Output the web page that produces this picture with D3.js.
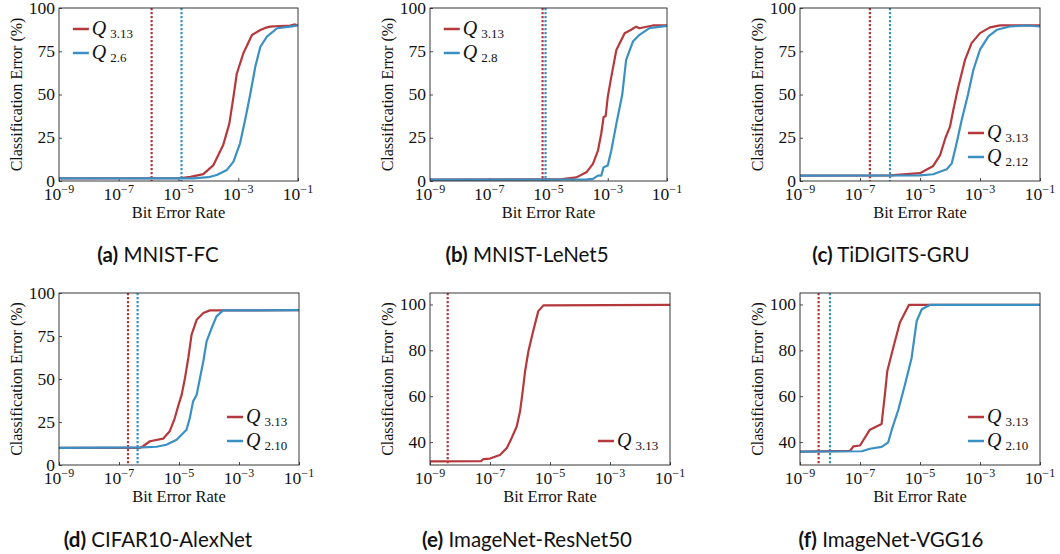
<!DOCTYPE html>
<html>
<head>
<meta charset="utf-8">
<script src="https://cdn.jsdelivr.net/npm/d3@7"></script>
<style>
  body { margin: 0; background: #fff; }
  svg { display: block; }
  .tick-label, .axis-title, .legend-text { font-family: 'Liberation Serif', 'Times New Roman', serif; fill: #111; }
  .caption { font-family: Lato, 'Open Sans', sans-serif; font-size: 20.5px; fill: #111; }
</style>
</head>
<body>
<svg id="chart" width="1060" height="554"></svg>
<script>
// ---- data (x values are log10 of the bit error rate, y values are % error) ----
const xTickExps = [-9, -7, -5, -3, -1];
const yTicksCifar = [0, 25, 50, 75, 100];
const yTicksImageNet = [40, 60, 80, 100];

const captions = ['(a)', '(b)', '(c)', '(d)', '(e)', '(f)'];
const captionNames = ['MNIST-FC', 'MNIST-LeNet5', 'TiDIGITS-GRU', 'CIFAR10-AlexNet', 'ImageNet-ResNet50', 'ImageNet-VGG16'];

// (a) MNIST-FC
const fcRedExp = [-9, -5, -4.6, -4.17, -3.83, -3.5, -3.3, -3.16, -3.05, -2.83, -2.54, -2.26, -2.1, -1.93, -1.6, -1.26, -1.1, -1];
const fcRedErr = [1.5, 1.6, 2.4, 4, 9.2, 21, 33, 48.7, 62, 73.8, 84.4, 87.3, 88.5, 89.2, 89.6, 89.8, 90.5, 90];
const fcBlueExp = [-9, -4.5, -4.0, -3.72, -3.38, -3.16, -2.94, -2.77, -2.6, -2.43, -2.26, -2.04, -1.7, -1.26, -1];
const fcBlueErr = [1.5, 1.5, 2.2, 3.5, 6.4, 11.2, 21.8, 35.3, 50, 66, 77.6, 83.4, 88.3, 89.2, 90];
const fcVlines = [-5.9, -4.9];

// (b) MNIST-LeNet5
const lenetRedExp = [-9, -4.6, -4.06, -3.72, -3.5, -3.33, -3.22, -3.14, -3.07, -3.0, -2.88, -2.71, -2.43, -2.21, -2.04, -1.93, -1.48, -1];
const lenetRedErr = [0.8, 1.0, 2.1, 5, 9.9, 17.6, 27.3, 37, 37.5, 48.6, 60.2, 75.7, 85.4, 87.4, 89.2, 88.3, 89.9, 90];
const lenetBlueExp = [-9, -3.7, -3.5, -3.33, -3.22, -3.14, -3.0, -2.88, -2.71, -2.51, -2.38, -2.15, -1.93, -1.59, -1];
const lenetBlueErr = [0.8, 0.9, 1.2, 3.1, 3.1, 8, 9, 17.6, 33, 50, 70, 80.6, 84.5, 88.4, 89.7];
const lenetVlines = [-5.2, -5.1];

// (c) TiDIGITS-GRU
const gruRedExp = [-9, -6, -5.0, -4.56, -4.33, -4.15, -4.0, -3.89, -3.78, -3.72, -3.5, -3.28, -3.0, -2.67, -2.33, -1];
const gruRedErr = [3.1, 3.2, 4.5, 8.7, 15, 25, 31.4, 41, 50, 54.6, 70, 79.7, 85.5, 88.8, 90, 90];
const gruBlueExp = [-9, -5, -4.56, -4.11, -3.94, -3.78, -3.61, -3.4, -3.22, -3.0, -2.72, -2.44, -2.0, -1.44, -1];
const gruBlueErr = [3.1, 3.2, 3.9, 6.8, 10.2, 21.8, 35.3, 50, 64.3, 75.9, 83.6, 87.4, 89.3, 89.9, 89.3];
const gruVlines = [-6.67, -6.0];

// (d) CIFAR10-AlexNet
const alexRedExp = [-9, -6.3, -6.2, -5.97, -5.53, -5.31, -5.14, -5.03, -4.91, -4.8, -4.69, -4.58, -4.41, -4.19, -3.97, -1];
const alexRedErr = [10, 10, 10.9, 13.8, 15.3, 19.6, 27.3, 34.1, 40.9, 50.6, 62.2, 75.8, 84.5, 88.4, 89.9, 90];
const alexBlueExp = [-9, -6.2, -5.75, -5.42, -5.08, -4.75, -4.64, -4.53, -4.41, -4.3, -4.19, -4.08, -3.91, -3.75, -3.53, -1];
const alexBlueErr = [10, 10.2, 10.6, 11.8, 14.7, 20.5, 27.3, 37, 40.9, 50.6, 60.2, 71.9, 79.7, 86.4, 89.9, 90];
const alexVlines = [-6.7, -6.38];

// (e) ImageNet-ResNet50
const resRedExp = [-9, -7.3, -7.22, -7.0, -6.67, -6.44, -6.28, -6.11, -6.0, -5.91, -5.83, -5.72, -5.56, -5.39, -5.22, -1];
const resRedErr = [31.6, 31.7, 32.6, 32.8, 34.4, 37.4, 41.7, 46.8, 53.3, 62.1, 70.9, 79.6, 88.4, 97.1, 99.6, 99.8];
const resVlines = [-8.41];

// (f) ImageNet-VGG16
const vggRedExp = [-9, -7.33, -7.22, -7.0, -6.67, -6.28, -6.17, -6.09, -5.89, -5.67, -5.37, -1];
const vggRedErr = [35.8, 36.2, 38.1, 38.5, 45.4, 47.9, 60.8, 71, 81.2, 92.1, 99.8, 99.8];
const vggBlueExp = [-9, -6.94, -6.67, -6.28, -6.06, -5.94, -5.72, -5.5, -5.28, -5.11, -4.94, -4.67, -1];
const vggBlueErr = [35.8, 36.0, 37.1, 37.9, 39.9, 45.4, 54.2, 65.1, 76.7, 92.8, 97.9, 99.8, 99.8];
const vggVlines = [-8.38, -8.0];

const RED = '#b5393c';
const BLUE = '#3b90c3';

// layout of the six panels
const panels = [
    { x0: 59, x1: 298, y0: 8, y1: 181, yDomain: [0, 100], yTicks: yTicksCifar, legend: 'ul',
      series: [{ name: '3.13', exp: fcRedExp, err: fcRedErr, color: RED }, { name: '2.6', exp: fcBlueExp, err: fcBlueErr, color: BLUE }], vlines: fcVlines },
    { x0: 430, x1: 667, y0: 8, y1: 181, yDomain: [0, 100], yTicks: yTicksCifar, legend: 'ul',
      series: [{ name: '3.13', exp: lenetRedExp, err: lenetRedErr, color: RED }, { name: '2.8', exp: lenetBlueExp, err: lenetBlueErr, color: BLUE }], vlines: lenetVlines },
    { x0: 800, x1: 1040, y0: 8, y1: 181, yDomain: [0, 100], yTicks: yTicksCifar, legend: 'lr',
      series: [{ name: '3.13', exp: gruRedExp, err: gruRedErr, color: RED }, { name: '2.12', exp: gruBlueExp, err: gruBlueErr, color: BLUE }], vlines: gruVlines },
    { x0: 59, x1: 299, y0: 293, y1: 465, yDomain: [0, 100], yTicks: yTicksCifar, legend: 'lr',
      series: [{ name: '3.13', exp: alexRedExp, err: alexRedErr, color: RED }, { name: '2.10', exp: alexBlueExp, err: alexBlueErr, color: BLUE }], vlines: alexVlines },
    { x0: 430, x1: 670, y0: 293, y1: 465, yDomain: [30, 105], yTicks: yTicksImageNet, legend: 'lr',
      series: [{ name: '3.13', exp: resRedExp, err: resRedErr, color: RED }], vlines: resVlines },
    { x0: 800, x1: 1040, y0: 293, y1: 465, yDomain: [30, 105], yTicks: yTicksImageNet, legend: 'lr',
      series: [{ name: '3.13', exp: vggRedExp, err: vggRedErr, color: RED }, { name: '2.10', exp: vggBlueExp, err: vggBlueErr, color: BLUE }], vlines: vggVlines }
];

const svg = d3.select('#chart');

panels.forEach((p, idx) => {
    const w = p.x1 - p.x0;
    const h = p.y1 - p.y0;
    const x = d3.scaleLog().domain([1e-9, 1e-1]).range([0, w]);
    const y = d3.scaleLinear().domain(p.yDomain).range([h, 0]);

    const g = svg.append('g').attr('transform', `translate(${p.x0},${p.y0})`);

    g.append('defs').append('clipPath').attr('id', `clip${idx}`)
        .append('rect').attr('width', w).attr('height', h);

    // axes: inward ticks, labels drawn by hand for the superscripts
    const xAxis = g.append('g').attr('transform', `translate(0,${h})`)
        .call(d3.axisBottom(x).tickValues(xTickExps.map((e) => Math.pow(10, e))).tickSizeInner(-3).tickSizeOuter(0).tickFormat(''));
    const yAxis = g.append('g')
        .call(d3.axisLeft(y).tickValues(p.yTicks).tickSizeInner(-3).tickSizeOuter(0).tickFormat(''));
    [xAxis, yAxis].forEach((a) => {
        a.select('.domain').remove();
        a.selectAll('.tick line').attr('stroke', '#222').attr('stroke-width', 0.8);
    });

    xTickExps.forEach((e) => {
        const t = g.append('text').attr('class', 'tick-label')
            .attr('x', x(Math.pow(10, e)))
            .attr('y', h + 19)
            .attr('text-anchor', 'middle')
            .style('font-size', '17.5px');
        t.append('tspan').text('10');
        t.append('tspan').attr('dy', -7).style('font-size', '12px').text('\u2212' + Math.abs(e));
    });

    p.yTicks.forEach((v) => {
        g.append('text').attr('class', 'tick-label')
            .attr('x', -4)
            .attr('y', y(v) + 5.5)
            .attr('text-anchor', 'end')
            .style('font-size', '17.5px')
            .text(v);
    });

    g.append('text').attr('class', 'axis-title')
        .attr('x', w / 2).attr('y', h + 37)
        .attr('text-anchor', 'middle')
        .style('font-size', '16.5px')
        .text('Bit Error Rate');

    g.append('text').attr('class', 'axis-title')
        .attr('transform', `translate(-37,${h / 2}) rotate(-90)`)
        .attr('text-anchor', 'middle')
        .style('font-size', '16px')
        .text('Classification Error (%)');

    // threshold markers
    const pg = g.append('g').attr('clip-path', `url(#clip${idx})`);
    p.vlines.forEach((e, i) => {
        pg.append('line')
            .attr('x1', x(Math.pow(10, e))).attr('x2', x(Math.pow(10, e)))
            .attr('y1', 0).attr('y2', h)
            .attr('stroke', p.series[i].color)
            .attr('stroke-width', 2.2)
            .attr('stroke-dasharray', '2.2,1.8');
    });

    const line = d3.line().x((d) => x(Math.pow(10, d[0]))).y((d) => y(d[1]));
    p.series.forEach((s) => {
        pg.append('path')
            .datum(s.exp.map((e, i) => [e, s.err[i]]))
            .attr('d', line)
            .attr('fill', 'none')
            .attr('stroke', s.color)
            .attr('stroke-width', 2.2)
            .attr('stroke-linejoin', 'round');
    });

    // frame
    g.append('rect').attr('width', w).attr('height', h)
        .attr('fill', 'none').attr('stroke', '#222').attr('stroke-width', 0.9);

    // legend
    const lx = p.legend === 'ul' ? w * 0.058 : w * 0.70;
    p.series.forEach((s, i) => {
        let ly;
        if (p.legend === 'ul') {
            ly = 21 + i * 24;
        } else {
            ly = h - 24 * (p.series.length - i);
        }
        const le = g.append('g').attr('transform', `translate(${lx},${ly})`);
        le.append('line').attr('x1', 0).attr('x2', 16).attr('y1', 0).attr('y2', 0)
            .attr('stroke', s.color).attr('stroke-width', 2.5);
        const t = le.append('text').attr('class', 'legend-text').attr('x', 19).attr('y', 6);
        t.append('tspan').style('font-style', 'italic').style('font-size', '20px').text('Q');
        t.append('tspan').attr('dx', 4).attr('dy', 3).style('font-size', '13px').text(s.name);
    });

    // caption
    const cap = svg.append('text').attr('class', 'caption')
        .attr('x', idx % 3 === 0 ? 158 : idx % 3 === 1 ? 527 : 891)
        .attr('y', idx < 3 ? 262 : 547)
        .attr('text-anchor', 'middle');
    cap.append('tspan').style('font-weight', 'bold').text(captions[idx]);
    cap.append('tspan').text(' ' + captionNames[idx]);
});
</script>
</body>
</html>
